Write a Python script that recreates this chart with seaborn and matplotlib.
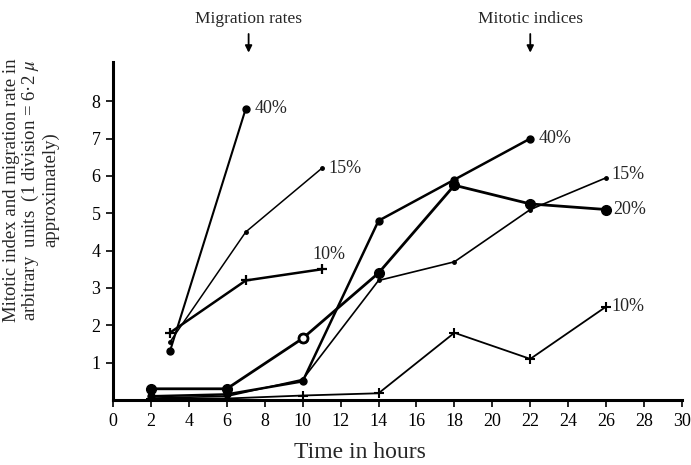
import matplotlib
matplotlib.use("Agg")
import matplotlib.pyplot as plt
import seaborn as sns
import pandas as pd

# ---- data ----
mig_time_40 = [3, 7]
mig_40 = [1.3, 7.8]
mig_time_15 = [3, 7, 11]
mig_15 = [1.55, 4.5, 6.2]
mig_time_10 = [3, 7, 11]
mig_10 = [1.8, 3.2, 3.5]

mit_time_40 = [2, 6, 10, 14, 18, 22]
mit_40 = [0.1, 0.15, 0.5, 4.8, 5.9, 7.0]
mit_time_20 = [2, 6, 10, 14, 18, 22, 26]
mit_20 = [0.3, 0.3, 1.65, 3.4, 5.75, 5.25, 5.1]
mit_20_open = [2]  # index of the open-circle point
mit_time_15 = [2, 6, 10, 14, 18, 22, 26]
mit_15 = [0.05, 0.1, 0.55, 3.2, 3.7, 5.1, 5.95]
mit_time_10 = [2, 6, 10, 14, 18, 22, 26]
mit_10 = [0.03, 0.04, 0.12, 0.18, 1.8, 1.1, 2.5]

x_ticks = list(range(0, 31, 2))
y_ticks = [1, 2, 3, 4, 5, 6, 7, 8]

sns.set_theme(style="ticks")
plt.rcParams["font.family"] = ["Liberation Serif", "DejaVu Serif"]
plt.rcParams["mathtext.fontset"] = "stix"

fig = plt.figure(figsize=(6.91, 4.65), dpi=100)
ax = fig.add_axes([113 / 691, 65 / 465, 569 / 691, 338 / 465])

K = "black"

def draw(t, v, lw, marker, ms, mew=1.0, mfc=K):
    df = pd.DataFrame({"t": t, "v": v})
    sns.lineplot(data=df, x="t", y="v", ax=ax, color=K, lw=lw, marker=marker,
                 markersize=ms, markeredgecolor=K, markerfacecolor=mfc,
                 markeredgewidth=mew, estimator=None, sort=False)

# migration rates
draw(mig_time_40, mig_40, 1.5, "o", 5)
draw(mig_time_15, mig_15, 1.1, "o", 2.5)
draw(mig_time_10, mig_10, 1.8, "+", 7, mew=1.6)

# mitotic indices
draw(mit_time_10, mit_10, 1.3, "+", 7, mew=1.5)
draw(mit_time_15, mit_15, 1.2, "o", 2.5)
draw(mit_time_40, mit_40, 1.8, "o", 5)
draw(mit_time_20, mit_20, 2.0, "o", 7)
open_df = pd.DataFrame({"t": [mit_time_20[i] for i in mit_20_open],
                        "v": [mit_20[i] for i in mit_20_open]})
sns.scatterplot(data=open_df, x="t", y="v", ax=ax, s=42, color="white",
                edgecolor=K, linewidth=2.0, zorder=5)

# end labels
lab_fs = 13
ax.text(mig_time_40[-1] + 0.45, mig_40[-1], "40%", fontsize=lab_fs, va="center", ha="left")
ax.text(mig_time_15[-1] + 0.35, mig_15[-1], "15%", fontsize=lab_fs, va="center", ha="left")
ax.text(mig_time_10[-1] + 0.4, mig_10[-1] + 0.4, "10%", fontsize=lab_fs, va="center", ha="center")
ax.text(mit_time_40[-1] + 0.45, mit_40[-1], "40%", fontsize=lab_fs, va="center", ha="left")
ax.text(mit_time_15[-1] + 0.3, mit_15[-1] + 0.1, "15%", fontsize=lab_fs, va="center", ha="left")
ax.text(mit_time_20[-1] + 0.4, mit_20[-1], "20%", fontsize=lab_fs, va="center", ha="left")
ax.text(mit_time_10[-1] + 0.3, mit_10[-1], "10%", fontsize=lab_fs, va="center", ha="left")

# top headings with arrows
for hx, htxt in ((mig_time_40[-1] + 0.15, "Migration rates"),
                 (mit_time_40[-1], "Mitotic indices")):
    ax.text(hx, 10.2, htxt, ha="center", va="center", fontsize=12.5, clip_on=False)
    ax.annotate("", xy=(hx, 9.3), xytext=(hx, 9.8), annotation_clip=False,
                arrowprops=dict(arrowstyle="-|>", color=K, lw=1.3, shrinkA=0, shrinkB=0,
                                mutation_scale=10))

ax.set_xlim(0, 30)
ax.set_ylim(0, 9.05)
ax.set_xticks(x_ticks)
ax.set_xticklabels([str(t) for t in x_ticks], fontsize=13)
ax.set_yticks(y_ticks)
ax.set_yticklabels([str(t) for t in y_ticks], fontsize=13)
ax.tick_params(axis="both", direction="out", length=5, width=1.2, colors=K, pad=4)

ax.set_xlabel("Time in hours", fontsize=17)
ax.xaxis.set_label_coords((360 - 113) / 569, -0.123)
ax.set_ylabel("")
fig.text(31 / 691, (465 - 190) / 465,
         "Mitotic index and migration rate in\n"
         "arbitrary  units  (1 division = 6·2 $\\mu$\n"
         "approximately)", fontsize=13.5, linespacing=1.05, rotation=90,
         ha="center", va="center", multialignment="center")

sns.despine(ax=ax)
for s in ("left", "bottom"):
    ax.spines[s].set_linewidth(2.2)
    ax.spines[s].set_color(K)
ax.set_facecolor("white")
fig.patch.set_facecolor("white")

fig.savefig("out.png", dpi=100)
